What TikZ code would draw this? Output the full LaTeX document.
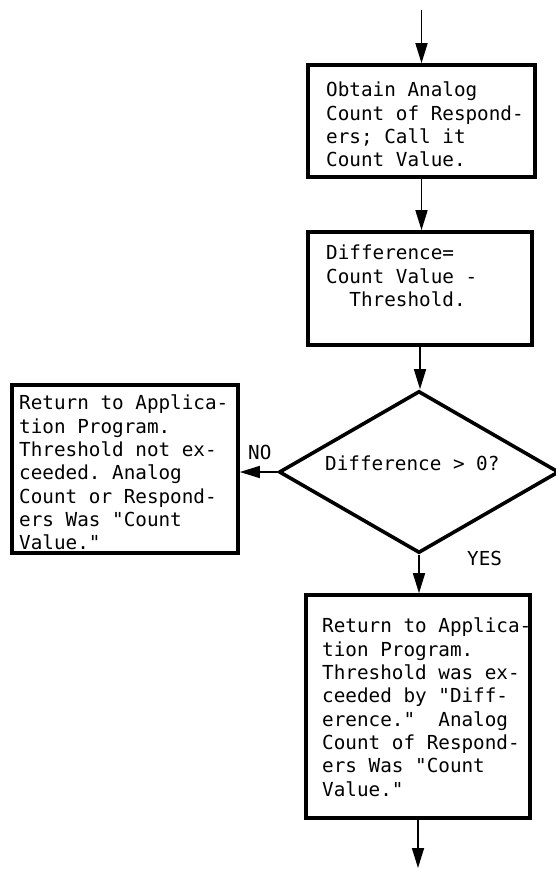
\documentclass[tikz,border=0pt]{standalone}
\usepackage{fontspec}
\setmonofont{DejaVu Sans Mono}
\usetikzlibrary{arrows.meta,shapes.geometric}
\begin{document}
\begin{tikzpicture}[x=1pt,y=-1pt,
  box/.style={draw, line width=3.6pt, inner sep=0pt},
  dia/.style={diamond, draw, line width=3.6pt, inner sep=0pt, minimum width=280pt, minimum height=162pt},
  txt/.style={font=\ttfamily\fontsize{19.3}{23.3}\selectfont, align=left, anchor=north west, inner sep=0pt},
  lbl/.style={font=\ttfamily\fontsize{19.3}{23.3}\selectfont, inner sep=0pt, anchor=base west},
  arr/.style={line width=1.6pt, -{Triangle[length=20pt,width=12pt]}}]
\useasboundingbox (0,0) rectangle (555,877);
\fill[white] (0,0) rectangle (555,877);
% boxes
\node[box, minimum width=227pt, minimum height=112pt] (b1) at (421.5,121) {};
\node[box, minimum width=224pt, minimum height=113pt] (b2) at (420,288.5) {};
\node[dia] (d) at (419,472) {};
\node[box, minimum width=226pt, minimum height=168pt] (b3) at (125,469) {};
\node[box, minimum width=224pt, minimum height=223pt] (b4) at (418,706.5) {};
% texts
\node[txt] (t1) at (326,82) {Obtain Analog\\Count of Respond-\\ers; Call it\\Count Value.};
\node[txt] (t2) at (326,245) {Difference=\\Count Value -\\\phantom{xx}Threshold.};
\node[txt] (t3) at (19,395) {Return to Applica-\\tion Program.\\Threshold not ex-\\ceeded. Analog\\Count or Respond-\\ers Was "Count\\Value."};
\node[txt] (t4) at (322,618) {Return to Applica-\\tion Program.\\Threshold was ex-\\ceeded by "Diff-\\erence."\ \ Analog\\Count of Respond-\\ers Was "Count\\Value."};
\node[lbl] (dt) at (325,470) {Difference > 0?};
\node[lbl] (no) at (248,459) {NO};
\node[lbl] (yes) at (467,565) {YES};
% connectors
\coordinate (in) at (421.5,10);
\coordinate (out) at (418,868);
\draw[arr] (in) -- (b1.north);
\draw[arr] (b1.south) -- (b1.south |- b2.north);
\draw[arr] (b2.south) -- (b2.south |- d.north);
\draw[arr] (d.west) -- (d.west -| b3.east);
\draw[arr] (d.south) -- (d.south |- b4.north);
\draw[arr] (b4.south) -- (out);
\end{tikzpicture}
\end{document}
